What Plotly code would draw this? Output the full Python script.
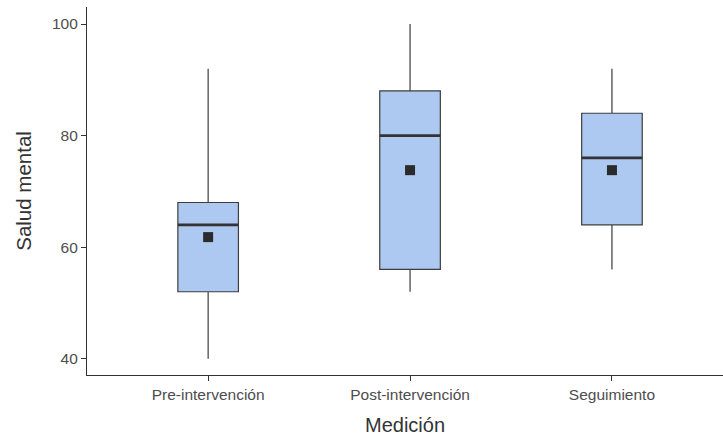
import plotly.graph_objects as go

categories = ["Pre-intervención", "Post-intervención", "Seguimiento"]
positions = [0, 1, 2]
lower_whisker = [40, 52, 56]
q1_values = [52, 56, 64]
median_values = [64, 80, 76]
q3_values = [68, 88, 84]
upper_whisker = [92, 100, 92]
mean_values = [61.8, 73.8, 73.8]
y_ticks = [40, 60, 80, 100]

BOX_W = 0.3
fig = go.Figure()
fig.add_trace(go.Box(
    x=positions, q1=q1_values, median=median_values, q3=q3_values,
    lowerfence=lower_whisker, upperfence=upper_whisker,
    width=BOX_W, whiskerwidth=0,
    fillcolor="#aec9f1", line=dict(color="#3d3d3d", width=1.2),
    showlegend=False, hoverinfo="skip",
))
for p, m in zip(positions, median_values):
    fig.add_trace(go.Scatter(
        x=[p - BOX_W / 2, p + BOX_W / 2], y=[m, m], mode="lines",
        line=dict(color="#333333", width=2.6), showlegend=False, hoverinfo="skip",
    ))
fig.add_trace(go.Scatter(
    x=positions, y=mean_values, mode="markers",
    marker=dict(symbol="square", size=10, color="#2b2b2b"),
    showlegend=False, hoverinfo="skip",
))

font_family = "Liberation Sans, Arial, sans-serif"
fig.update_layout(
    width=723, height=439,
    margin=dict(l=87, r=0, t=7, b=64),
    plot_bgcolor="white", paper_bgcolor="white",
    font=dict(family=font_family, color="#4d4d4d"),
    xaxis=dict(
        range=[-0.6, 2.55], tickmode="array", tickvals=positions, ticktext=categories,
        showgrid=False, zeroline=False, showline=True, linecolor="#333333", linewidth=1.2,
        ticks="outside", ticklen=5, tickcolor="#333333", automargin=False,
        tickfont=dict(size=15.5, color="#4d4d4d"),
    ),
    yaxis=dict(
        range=[37.08, 103.05], tickmode="array", tickvals=y_ticks,
        showgrid=False, zeroline=False, showline=True, linecolor="#333333", linewidth=1.2,
        ticks="outside", ticklen=5, tickcolor="#333333", automargin=False,
        tickfont=dict(size=15.5, color="#4d4d4d"),
    ),
    annotations=[
        dict(text="Medición", xref="paper", yref="paper", x=0.5, y=-0.136,
             xanchor="center", yanchor="middle", showarrow=False,
             font=dict(size=20, color="#333333")),
        dict(text="Salud mental", xref="paper", yref="paper", x=-0.101, y=0.5,
             xanchor="center", yanchor="middle", showarrow=False, textangle=-90,
             font=dict(size=20.5, color="#333333")),
    ],
)
fig.write_html(
    "out.html",
    config={"displayModeBar": False},
    post_script="document.body.style.margin='0';document.body.style.overflow='hidden';",
)
